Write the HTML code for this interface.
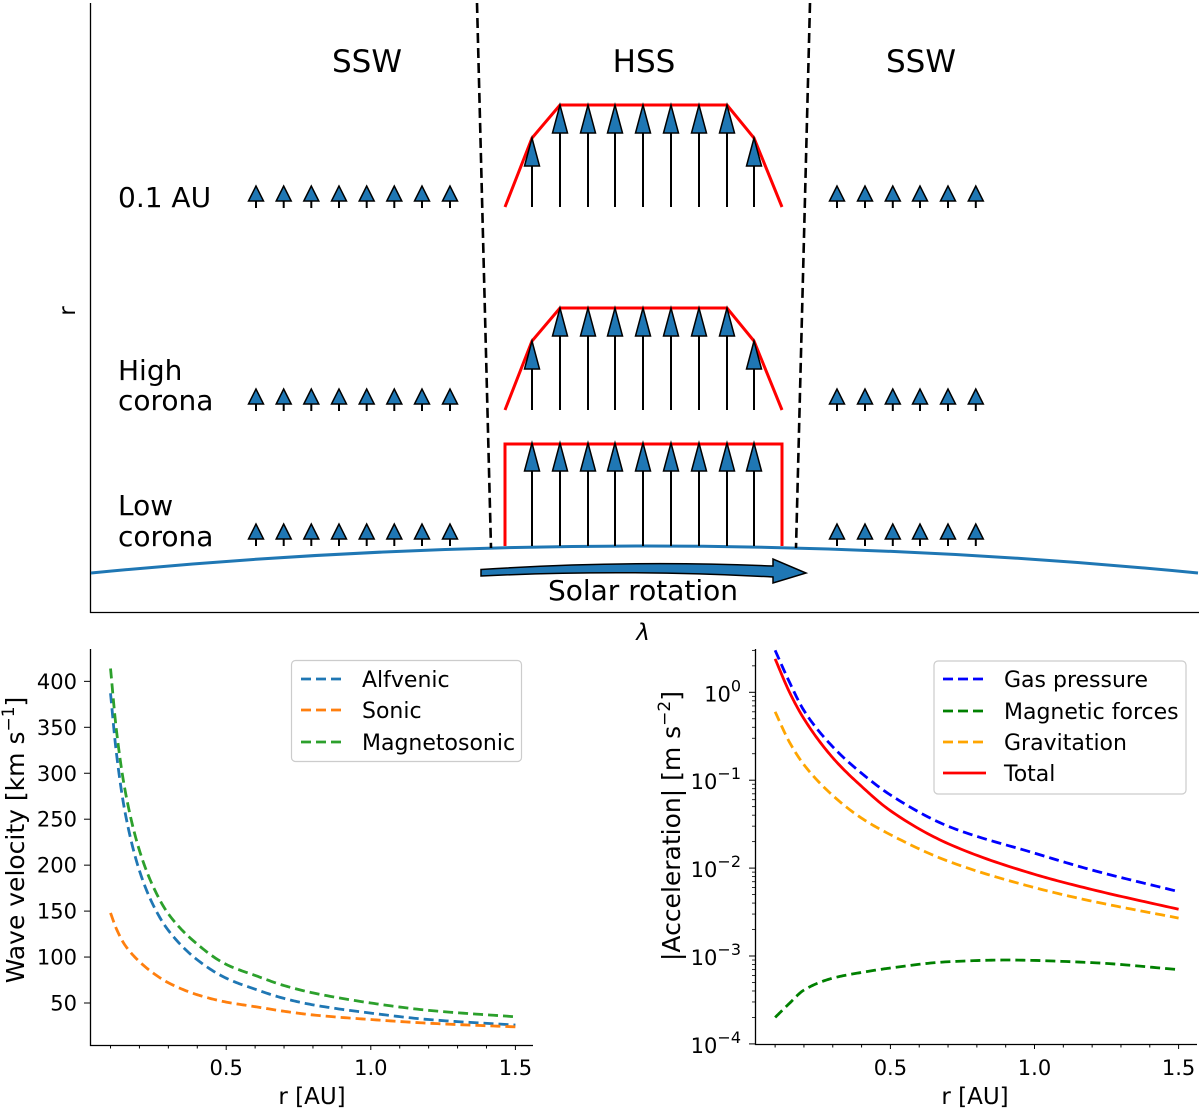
<!DOCTYPE html>
<html><head><meta charset="utf-8"><style>
html,body{margin:0;padding:0;background:#fff;}
svg{display:block;font-family:"DejaVu Sans","Liberation Sans",sans-serif;}
</style></head><body>
<svg id="fig" width="1200" height="1111" viewBox="0 0 1200 1111" xmlns="http://www.w3.org/2000/svg">
<g id="top">
  <line x1="90.5" y1="3" x2="90.5" y2="613" stroke="#000" stroke-width="1.3"/>
  <line x1="90" y1="612.5" x2="1199" y2="612.5" stroke="#000" stroke-width="1.3"/>
  <text x="0" y="0" transform="translate(75,311) rotate(-90)" text-anchor="middle" font-size="23">r</text>
  <text x="643" y="640" text-anchor="middle" font-size="23" font-style="italic">λ</text>
  <path d="M91,573 Q644,519 1198,573" fill="none" stroke="#1f77b4" stroke-width="3"/>
  <line x1="477" y1="3" x2="491" y2="548" stroke="#000" stroke-width="2.6" stroke-dasharray="10,5"/>
  <line x1="810" y1="3" x2="796" y2="548" stroke="#000" stroke-width="2.6" stroke-dasharray="10,5"/>
  <text x="367" y="72" text-anchor="middle" font-size="31">SSW</text>
  <text x="644" y="72" text-anchor="middle" font-size="31">HSS</text>
  <text x="921" y="72" text-anchor="middle" font-size="31">SSW</text>
  <text x="118" y="207" font-size="28">0.1 AU</text>
  <text x="118" y="380" font-size="28">High</text>
  <text x="118" y="410" font-size="28">corona</text>
  <text x="118" y="515" font-size="28">Low</text>
  <text x="118" y="546" font-size="28">corona</text>
  <polyline points="505,207 532,138 560,105 727,105 754,138 782,207" fill="none" stroke="#f00" stroke-width="3"/>
  <polyline points="505,410 532,341 560,308 727,308 754,341 782,410" fill="none" stroke="#f00" stroke-width="3"/>
  <polyline points="505,546 505,444 782,444 782,546" fill="none" stroke="#f00" stroke-width="3"/>
  <g id="arrows"></g>
  <path d="M481,569.5 Q627,560 773,566 L773,559 L806,573 L773,583 L773,577 Q627,569 481,576 Z" fill="#1f77b4" stroke="#000" stroke-width="1.5"/>
  <text x="643" y="600" text-anchor="middle" font-size="28">Solar rotation</text>
</g>
<g id="left"></g>
<g id="right"></g>
</svg>
<script>
const NS='http://www.w3.org/2000/svg';
function mk(parent,tag,attrs,text){const e=document.createElementNS(NS,tag);for(const k in attrs)e.setAttribute(k,attrs[k]);if(text!==undefined)e.textContent=text;parent.appendChild(e);return e;}

// ---- schematic arrows ----
const sswLeftX=[256,283.7,311.3,339,366.7,394.3,422,450];
const sswRightX=[837,865,892.8,920,948,975.8];
const rowTips=[186,389,524];
const hssX=[532,560,588,615,643,671,699,727,754];
const hssTips=[[138,105,105,105,105,105,105,105,138],[341,308,308,308,308,308,308,308,341],[443,443,443,443,443,443,443,443,443]];
const hssBase=[207,410,546];
const ag=document.getElementById('arrows');
function smallArrow(x,tip){
  const g=mk(ag,'g',{});
  
  
  mk(g,'line',{x1:x,y1:tip+14,x2:x,y2:tip+22,stroke:'#000','stroke-width':2});
  mk(g,'polygon',{points:`${x},${tip} ${x-7.5},${tip+15} ${x+7.5},${tip+15}`,fill:'#1f77b4',stroke:'#000','stroke-width':1.5});
}
rowTips.forEach(t=>{sswLeftX.forEach(x=>smallArrow(x,t));sswRightX.forEach(x=>smallArrow(x,t));});
hssX.forEach((x,i)=>{for(let r=0;r<3;r++){
  const tip=hssTips[r][i];
  const g=mk(ag,'g',{});
  
  
  mk(g,'line',{x1:x,y1:tip+20,x2:x,y2:hssBase[r],stroke:'#000','stroke-width':2});
  mk(g,'polygon',{points:`${x},${tip} ${x-7.5},${tip+28} ${x+7.5},${tip+28}`,fill:'#1f77b4',stroke:'#000','stroke-width':1.5});
}});

// ---- chart data ----
const rVel=[0.1,0.12,0.15,0.2,0.25,0.3,0.4,0.5,0.6,0.7,0.8,1.0,1.2,1.5];
const alfvenic=[387,323,258,194,155,129,97,77,65,55,48,39,32,26];
const sonic=[148,131,113,95,82,72,59,51,46,41,37,32,28,24];
const magnetosonic=[414,348,282,216,175,147,114,92,80,69,61,50,42,35];
const velTicks=[50,100,150,200,250,300,350,400];
const xTicks=[0.5,1.0,1.5];
const xTickLabels=['0.5','1.0','1.5'];

const rAcc=[0.1,0.15,0.2,0.3,0.4,0.5,0.7,1.0,1.2,1.5];
const gasPressure=[3.0,1.3,0.62,0.24,0.12,0.068,0.03,0.0148,0.0095,0.0054];
const gravitation=[0.6,0.27,0.15,0.067,0.037,0.024,0.012,0.006,0.0042,0.0027];
const total=[2.4,1.0,0.5,0.18,0.085,0.045,0.019,0.0085,0.0057,0.0034];
const rMag=[0.1,0.15,0.2,0.3,0.4,0.5,0.7,0.9,1.2,1.5];
const magnetic=[0.0002,0.00029,0.00041,0.00056,0.00065,0.00073,0.00086,0.0009,0.00084,0.0007];
const accTickExp=[0,-1,-2,-3,-4];

// monotone cubic interpolation (Fritsch-Carlson) in transformed space
function monoPath(xs,ys,fx,fy,tr){
  const n=xs.length,Y=ys.map(tr),d=[],m=[];
  for(let i=0;i<n-1;i++)d.push((Y[i+1]-Y[i])/(xs[i+1]-xs[i]));
  m[0]=d[0];m[n-1]=d[n-2];
  for(let i=1;i<n-1;i++){ if(d[i-1]*d[i]<=0)m[i]=0; else { const w1=2*(xs[i+1]-xs[i])+(xs[i]-xs[i-1]),w2=(xs[i+1]-xs[i])+2*(xs[i]-xs[i-1]); m[i]=(w1+w2)/(w1/d[i-1]+w2/d[i]); } }
  let s='';
  for(let i=0;i<n-1;i++){const h=xs[i+1]-xs[i];
    for(let k=0;k<=20;k++){ if(i>0&&k===0)continue; const t=k/20,x=xs[i]+t*h;
      const h00=2*t*t*t-3*t*t+1,h10=t*t*t-2*t*t+t,h01=-2*t*t*t+3*t*t,h11=t*t*t-t*t;
      const y=h00*Y[i]+h10*h*m[i]+h01*Y[i+1]+h11*h*m[i+1];
      s+=(s?' L':'M')+fx(x).toFixed(2)+','+fy(y).toFixed(2);}}
  return s;
}

// ---- left chart ----
const L=document.getElementById('left');
const lx=v=>226.2+(v-0.5)*289.2;
const ly=v=>1003-(v-50)*0.919;
mk(L,'defs',{}).innerHTML='<clipPath id="clipL"><rect x="90" y="649" width="443" height="396"/></clipPath><clipPath id="clipR"><rect x="755" y="649" width="442" height="395"/></clipPath>';
const lsp=mk(L,'path',{d:'M90.5,649 V1045.5 H533',fill:'none',stroke:'#000','stroke-width':1.3});


for(let k=1;k<=15;k++){const v=k/10;const t=mk(L,'line',{x1:lx(v),y1:1045,x2:lx(v),y2:1045+(k%5===0?5:3.5),stroke:'#000','stroke-width':1});
  }
xTicks.forEach((v,i)=>{const t=mk(L,'text',{x:lx(v),y:1075,'text-anchor':'middle','font-size':21},xTickLabels[i]);
  });
velTicks.forEach(v=>{mk(L,'line',{x1:84,y1:ly(v),x2:90,y2:ly(v),stroke:'#000','stroke-width':1});
  const t=mk(L,'text',{x:77,y:ly(v)+7.5,'text-anchor':'end','font-size':21},String(v));
  });
let t=mk(L,'text',{x:312,y:1104,'text-anchor':'middle','font-size':23},'r [AU]');

t=mk(L,'text',{transform:'translate(24,840) rotate(-90)','text-anchor':'middle','font-size':25});
t.innerHTML='Wave velocity [km s<tspan dy="-10" font-size="17">−1</tspan><tspan dy="10">]</tspan>';

const lcg=mk(L,'g',{'clip-path':'url(#clipL)'});
[[alfvenic,'#1f77b4','alfvenic-line'],[sonic,'#ff7f0e','sonic-line'],[magnetosonic,'#2ca02c','magnetosonic-line']].forEach(([ys,c,n])=>{
  const p=mk(lcg,'path',{d:monoPath(rVel,ys,lx,ly,v=>v),fill:'none',stroke:c,'stroke-width':2.8,'stroke-dasharray':'10,5'});
  });
const lleg=mk(L,'g',{});

mk(lleg,'rect',{x:291.5,y:660.5,width:230,height:101,rx:4,fill:'#fff','fill-opacity':0.8,stroke:'#ccc','stroke-width':1.2});
[['Alfvenic','#1f77b4',679],['Sonic','#ff7f0e',710],['Magnetosonic','#2ca02c',742]].forEach(([s,c,y])=>{
  const e=mk(lleg,'g',{});
  mk(e,'line',{x1:301,y1:y,x2:343,y2:y,stroke:c,'stroke-width':2.8,'stroke-dasharray':'10,5'});
  mk(e,'text',{x:362,y:y+8,'font-size':22},s);});

// ---- right chart ----
const R=document.getElementById('right');
const rx=v=>890.4+(v-0.5)*288.2;
const ryl=l=>692.3-l*87.9;
const ry=v=>ryl(Math.log10(v));
const rsp=mk(R,'path',{d:'M755.5,649 V1044.5 H1197',fill:'none',stroke:'#000','stroke-width':1.3});


for(let k=1;k<=15;k++){const v=k/10;const tk=mk(R,'line',{x1:rx(v),y1:1044,x2:rx(v),y2:1044+(k%5===0?5:3.5),stroke:'#000','stroke-width':1});
  }
xTicks.forEach((v,i)=>{const tt=mk(R,'text',{x:rx(v),y:1075,'text-anchor':'middle','font-size':21},xTickLabels[i]);
  });
for(let e=-4;e<=0;e++){for(let m=2;m<=9;m++){const y=ry(m*Math.pow(10,e));if(y<649)continue;
  mk(R,'line',{x1:752,y1:y,x2:755,y2:y,stroke:'#000','stroke-width':0.8});}}
accTickExp.forEach(e=>{const y=ry(Math.pow(10,e));mk(R,'line',{x1:749,y1:y,x2:755,y2:y,stroke:'#000','stroke-width':1});
  const tt=mk(R,'text',{x:741,y:y+9,'text-anchor':'end','font-size':21});
  tt.innerHTML='10<tspan dy="-10" font-size="16">'+(e===0?'0':'−'+(-e))+'</tspan>';
  });
t=mk(R,'text',{x:975,y:1104,'text-anchor':'middle','font-size':23},'r [AU]');

t=mk(R,'text',{transform:'translate(680,826) rotate(-90)','text-anchor':'middle','font-size':25});
t.innerHTML='|Acceleration| [m s<tspan dy="-10" font-size="17">−2</tspan><tspan dy="10">]</tspan>';

const rcg=mk(R,'g',{'clip-path':'url(#clipR)'});
[[rAcc,gasPressure,'#0000ff','10,5','gas-pressure-line'],[rMag,magnetic,'#008000','10,5','magnetic-forces-line'],[rAcc,gravitation,'#ffa500','10,5','gravitation-line'],[rAcc,total,'#ff0000','none','total-line']].forEach(([xs,ys,c,da,n])=>{
  const p=mk(rcg,'path',{d:monoPath(xs,ys,rx,ryl,Math.log10),fill:'none',stroke:c,'stroke-width':2.8,'stroke-dasharray':da});
  });
const rleg=mk(R,'g',{});

mk(rleg,'rect',{x:934,y:661,width:252,height:133,rx:4,fill:'#fff','fill-opacity':0.8,stroke:'#ccc','stroke-width':1.2});
[['Gas pressure','#0000ff',679,'10,5'],['Magnetic forces','#008000',711,'10,5'],['Gravitation','#ffa500',742,'10,5'],['Total','#ff0000',773,'none']].forEach(([s,c,y,da])=>{
  const e=mk(rleg,'g',{});
  mk(e,'line',{x1:943,y1:y,x2:986,y2:y,stroke:c,'stroke-width':2.8,'stroke-dasharray':da});
  mk(e,'text',{x:1004,y:y+8,'font-size':22},s);});
</script>
</body></html>
